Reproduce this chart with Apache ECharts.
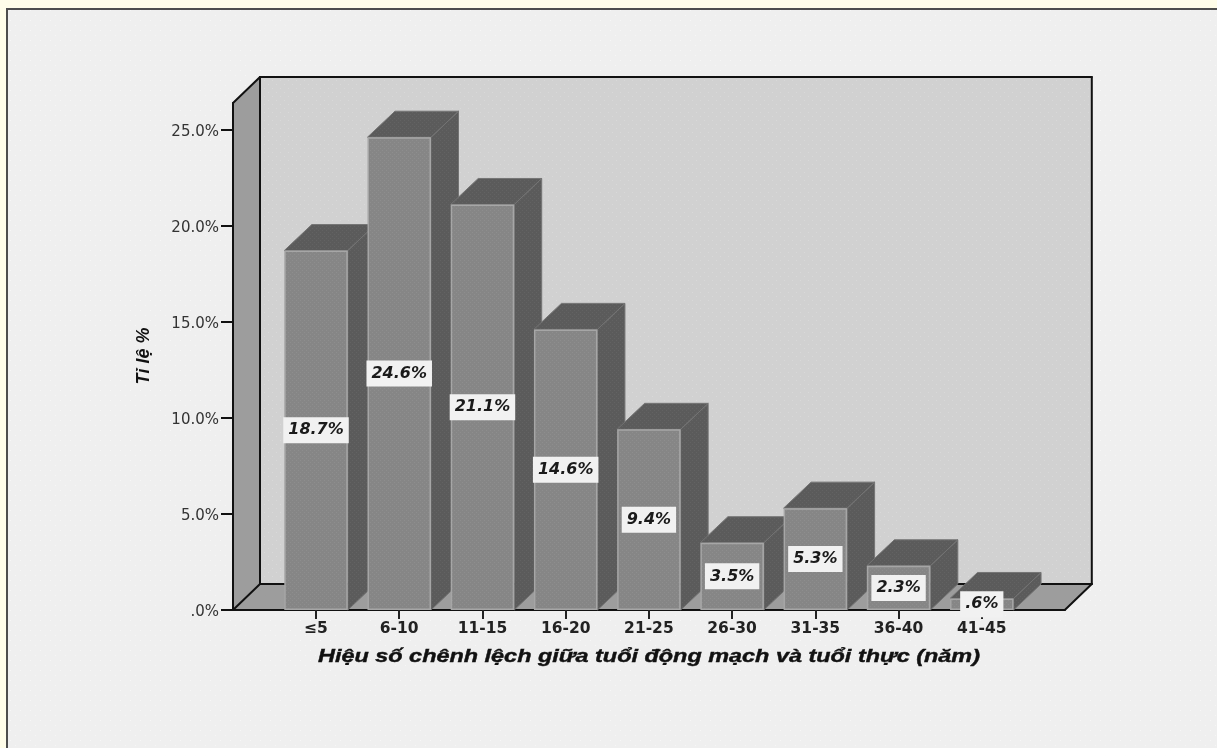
<!DOCTYPE html>
<html>
<head>
<meta charset="utf-8">
<style>html,body{margin:0;padding:0;background:#fffde9}#chart{width:1217px;height:748px}</style>
<script src="https://cdn.jsdelivr.net/npm/echarts@6/dist/echarts.min.js"></script>
</head>
<body>
<div id="chart"></div>
<script>
const categories = ['≤5', '6-10', '11-15', '16-20', '21-25', '26-30', '31-35', '36-40', '41-45'];
const percentages = [18.7, 24.6, 21.1, 14.6, 9.4, 3.5, 5.3, 2.3, 0.6];
const yTicks = { min: 0, max: 25, step: 5 };
const xTitle = 'Hiệu số chênh lệch giữa tuổi động mạch và tuổi thực (năm)';
const yTitle = 'Tỉ lệ %';

const DEPTH_X = 27.5, DEPTH_Y = 26, BAR_W = 63.5;
const WALL_TOP_VALUE = 26.38, WALL_OVERHANG = 41.4;
const X_TITLE_WIDTH = 662;

// Fine dotted fill used by the paper-like surfaces.
function dots(base, dot, step) {
  const c = document.createElement('canvas');
  c.width = step * 2; c.height = step * 2;
  const g = c.getContext('2d');
  g.fillStyle = base; g.fillRect(0, 0, c.width, c.height);
  g.fillStyle = dot;
  g.fillRect(0, 0, 1, 1);
  g.fillRect(step, step, 1, 1);
  return { image: c, repeat: 'repeat' };
}
const panelFill = dots('#efefef', '#f7f7f7', 5);
const wallFill = dots('#d1d1d1', '#d9d9d9', 4);
const barFill = dots('#868686', '#8e8e8e', 2);
const shadeFill = dots('#5b5b5b', '#636363', 2);

const EDGE = { stroke: '#111', lineWidth: 2, lineCap: 'round' };

// Back wall, left wall and floor of the box behind the bars.
function renderBox(params, api) {
  const cs = params.coordSys;
  const x0 = cs.x - WALL_OVERHANG, x1 = cs.x + cs.width + WALL_OVERHANG;
  const yb = api.coord([0, 0])[1], yt = api.coord([0, WALL_TOP_VALUE])[1];
  const dx = DEPTH_X - 0.5, dy = DEPTH_Y;
  const poly = (points, style) => ({ type: 'polygon', shape: { points }, style });
  const line = (a, b) => ({ type: 'line', shape: { x1: a[0], y1: a[1], x2: b[0], y2: b[1] }, style: EDGE });
  return {
    type: 'group',
    children: [
      poly([[x0 + dx, yt - dy], [x1 + dx, yt - dy], [x1 + dx, yb - dy], [x0 + dx, yb - dy]], { fill: wallFill }),
      poly([[x0, yt], [x0 + dx, yt - dy], [x0 + dx, yb - dy], [x0, yb]], { fill: '#9d9d9d' }),
      poly([[x0, yb], [x0 + dx, yb - dy], [x1 + dx, yb - dy], [x1, yb]], { fill: '#9d9d9d' }),
      line([x0, yt], [x0 + dx, yt - dy]),
      line([x0 + dx, yt - dy], [x1 + dx, yt - dy]),
      line([x1 + dx, yt - dy], [x1 + dx, yb - dy]),
      line([x0 + dx, yt - dy], [x0 + dx, yb - dy]),
      line([x0 + dx, yb - dy], [x1 + dx, yb - dy]),
      line([x0, yt], [x0, yb]),
      line([x0, yb], [x0 + dx, yb - dy]),
      line([x1, yb], [x1 + dx, yb - dy]),
      line([x0, yb], [x1, yb])
    ]
  };
}

// Top and side faces that give each bar its depth.
function renderDepth(params, api) {
  const top = api.coord([api.value(0), api.value(1)]);
  const base = api.coord([api.value(0), 0]);
  const l = top[0] - BAR_W / 2, r = top[0] + BAR_W / 2;
  const face = points => ({
    type: 'polygon', shape: { points },
    style: { fill: shadeFill, stroke: '#747474', lineWidth: 1 }
  });
  return {
    type: 'group',
    children: [
      face([[r, top[1]], [r + DEPTH_X, top[1] - DEPTH_Y], [r + DEPTH_X, base[1] - DEPTH_Y], [r, base[1]]]),
      face([[l, top[1]], [l + DEPTH_X, top[1] - DEPTH_Y], [r + DEPTH_X, top[1] - DEPTH_Y], [r, top[1]]])
    ]
  };
}

// The horizontal title is set in a wide, stretched face.
const X_TITLE_FONT = 'italic bold 18px "Liberation Sans", sans-serif';
const measure = document.createElement('canvas').getContext('2d');
measure.font = X_TITLE_FONT;
const xTitleStretch = X_TITLE_WIDTH / measure.measureText(xTitle).width;

const chart = echarts.init(document.getElementById('chart'), null, { renderer: 'canvas' });
const sideFont = '"DejaVu Sans", sans-serif';

chart.setOption({
  backgroundColor: '#fffde9',
  animation: false,
  graphic: [
    {
      type: 'rect', z: -10, silent: true,
      shape: { x: 7, y: 9, width: 1240, height: 780 },
      style: { fill: panelFill, stroke: '#4d4d4d', lineWidth: 2 }
    },
    {
      type: 'text', z: 10, silent: true, x: 144, y: 356, rotation: Math.PI / 2,
      style: {
        text: yTitle, align: 'center', verticalAlign: 'middle',
        font: 'italic bold 18px "Liberation Sans", sans-serif', fill: '#111'
      }
    },
    {
      type: 'text', z: 10, silent: true, x: 649, y: 657, scaleX: xTitleStretch,
      style: {
        text: xTitle, align: 'center', verticalAlign: 'middle',
        font: X_TITLE_FONT, fill: '#111', stroke: '#111', lineWidth: 0.4
      }
    }
  ],
  grid: { left: 274.4, top: 129.5, width: 749, height: 480.5 },
  xAxis: {
    type: 'category',
    data: categories,
    z: 1,
    axisLine: { show: false },
    axisTick: { show: true, alignWithLabel: true, length: 9, lineStyle: { color: '#222', width: 2 } },
    axisLabel: { margin: 11, color: '#222', fontFamily: sideFont, fontWeight: 'bold', fontSize: 15.5 }
  },
  yAxis: {
    type: 'value',
    min: yTicks.min,
    max: yTicks.max,
    interval: yTicks.step,
    offset: WALL_OVERHANG,
    z: 6,
    splitLine: { show: false },
    axisLine: { show: false },
    axisTick: { show: true, length: 12, lineStyle: { color: '#111', width: 2 } },
    axisLabel: {
      margin: 14,
      formatter: v => '{t|' + (v === 0 ? '.0%' : v.toFixed(1) + '%') + '}',
      rich: { t: { color: '#333', fontFamily: sideFont, fontSize: 15, padding: [5, 0, 0, 0] } }
    }
  },
  series: [
    {
      type: 'custom', z: 1, silent: true, clip: false,
      renderItem: renderBox, data: [[0, 0]]
    },
    {
      type: 'custom', z: 2, silent: true, clip: false,
      renderItem: renderDepth,
      data: percentages.map((v, i) => [i, v])
    },
    {
      type: 'bar', z: 3,
      data: percentages,
      barWidth: BAR_W,
      itemStyle: { color: barFill, borderColor: '#a6a6a6', borderWidth: 1.5 },
      label: {
        show: true, position: 'inside',
        formatter: p => (p.value < 1 ? String(p.value).replace(/^0/, '') : p.value.toFixed(1)) + '%',
        color: '#1a1a1a', fontFamily: sideFont, fontWeight: 'bold', fontStyle: 'italic', fontSize: 16,
        backgroundColor: '#f1f1f1', padding: [5, 5, 5, 5], borderRadius: 0
      }
    }
  ]
});
</script>
</body>
</html>
